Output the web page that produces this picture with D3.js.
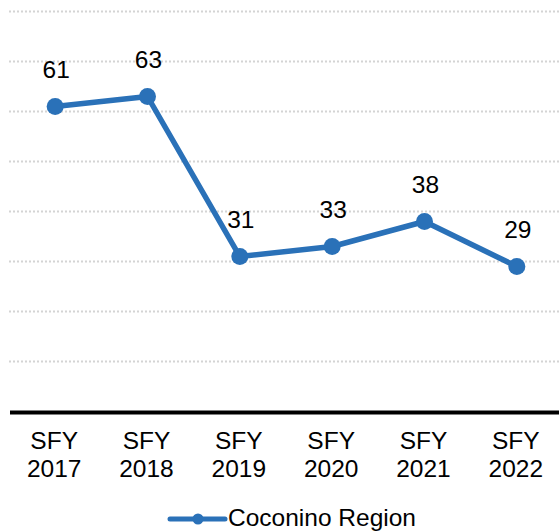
<!DOCTYPE html>
<html>
<head>
<meta charset="utf-8">
<script src="https://cdn.jsdelivr.net/npm/d3@7"></script>
<style>
  html, body { margin: 0; padding: 0; background: #fff; }
  svg { display: block; font-family: "Liberation Sans", Arial, sans-serif; }
</style>
</head>
<body>
<svg id="chart" width="559" height="531"></svg>
<script>
// Fiscal years shown along the bottom axis
const categories = ["SFY 2017", "SFY 2018", "SFY 2019", "SFY 2020", "SFY 2021", "SFY 2022"];
// Yearly counts for the region
const values = [61, 63, 31, 33, 38, 29];
const seriesName = "Coconino Region";
// Horizontal gridline values
const gridTicks = [10, 20, 30, 40, 50, 60, 70, 80];

const blue = "#2a71b8";
const fontSize = 24.5;
const svg = d3.select("#chart");

const x = d3.scaleBand().domain(categories).range([9, 563]);
const y = d3.scaleLinear().domain([0, 80]).range([411.5, 11.5]);
const cx = d => x(d) + x.bandwidth() / 2;

// dotted gridlines
svg.append("g")
  .selectAll("line")
  .data(gridTicks)
  .join("line")
  .attr("x1", 9).attr("x2", 559)
  .attr("y1", d => y(d)).attr("y2", d => y(d))
  .attr("stroke", "#d4d4d4")
  .attr("stroke-width", 2)
  .attr("stroke-dasharray", "2,2");

// category axis: solid baseline with two-line labels
const xAxis = svg.append("g").attr("transform", `translate(0,${y(0) + 1})`)
  .call(d3.axisBottom(x).tickSize(0).tickFormat(""));
xAxis.select(".domain").remove();
svg.append("line")
  .attr("x1", 10).attr("x2", 559)
  .attr("y1", y(0) + 1).attr("y2", y(0) + 1)
  .attr("stroke", "#000").attr("stroke-width", 4);

const labels = svg.append("g").selectAll("text")
  .data(categories)
  .join("text")
  .attr("text-anchor", "middle")
  .attr("font-size", fontSize)
  .attr("fill", "#000");
labels.each(function(d) {
  const parts = d.split(" ");
  const t = d3.select(this);
  t.append("tspan").attr("x", cx(d) - 1).attr("y", 449).text(parts[0]);
  t.append("tspan").attr("x", cx(d) - 1).attr("y", 476.5).text(parts[1]);
});

// series line
const pts = categories.map((c, i) => ({ c, v: values[i] }));
svg.append("path")
  .datum(pts)
  .attr("fill", "none")
  .attr("stroke", blue)
  .attr("stroke-width", 5.5)
  .attr("stroke-linejoin", "round")
  .attr("d", d3.line().x(d => cx(d.c)).y(d => y(d.v)));

svg.append("g").selectAll("circle")
  .data(pts)
  .join("circle")
  .attr("cx", d => cx(d.c))
  .attr("cy", d => y(d.v))
  .attr("r", 8.5)
  .attr("fill", blue);

// value labels above each point
svg.append("g").selectAll("text")
  .data(pts)
  .join("text")
  .attr("x", d => cx(d.c) + 1)
  .attr("y", d => y(d.v) - 29)
  .attr("text-anchor", "middle")
  .attr("font-size", fontSize)
  .attr("fill", "#000")
  .text(d => d.v);

// legend
const lg = svg.append("g");
lg.append("line")
  .attr("x1", 170).attr("x2", 225).attr("y1", 519).attr("y2", 519)
  .attr("stroke", blue).attr("stroke-width", 5).attr("stroke-linecap", "round");
lg.append("circle").attr("cx", 198).attr("cy", 519).attr("r", 5.5).attr("fill", blue);
lg.append("text")
  .attr("x", 228).attr("y", 526)
  .attr("font-size", fontSize).attr("fill", "#000")
  .text(seriesName);
</script>
</body>
</html>
